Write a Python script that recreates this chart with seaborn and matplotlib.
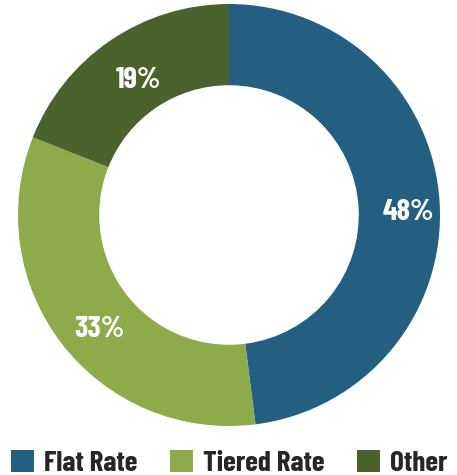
import matplotlib
matplotlib.use("Agg")
import matplotlib.pyplot as plt
import matplotlib.transforms as mtransforms
import seaborn as sns
from matplotlib.patches import Patch

sns.set_theme(style="white")

categories = ["Flat Rate", "Tiered Rate", "Other"]
values = [48, 33, 19]
colors = ["#245f82", "#8eab4c", "#4a622b"]

plt.rcParams["font.family"] = ["Barlow Condensed", "DejaVu Sans"]

W, H = 457, 475
fig = plt.figure(figsize=(W / 100, H / 100), dpi=100)
cx, cy, R = 229, 215, 211
ax = fig.add_axes([(cx - R) / W, (H - cy - R) / H, 2 * R / W, 2 * R / H])

wedges, texts, autotexts = ax.pie(
    values, colors=colors, startangle=90, counterclock=False,
    autopct=lambda p: f"{p:.0f}%", pctdistance=0.82,
    wedgeprops=dict(width=0.385, edgecolor="none"),
    textprops=dict(color="white", fontsize=22, fontweight="bold"),
)
shift = mtransforms.offset_copy(ax.transData, fig=fig, x=5, y=-6, units="points")
for t in autotexts:
    t.set_transform(shift)
ax.set_xlim(-1, 1)
ax.set_ylim(-1, 1)
ax.set_aspect("equal")
ax.axis("off")

handles = [Patch(facecolor=c, edgecolor="none") for c in colors]
fig.legend(handles, categories, loc="lower center", bbox_to_anchor=(0.502, -0.058), ncol=3,
           frameon=False, handlelength=0.8, handleheight=0.8, handletextpad=0.35,
           columnspacing=1.1, prop=dict(size=21, weight="bold"))

fig.savefig("out.png", dpi=100)
